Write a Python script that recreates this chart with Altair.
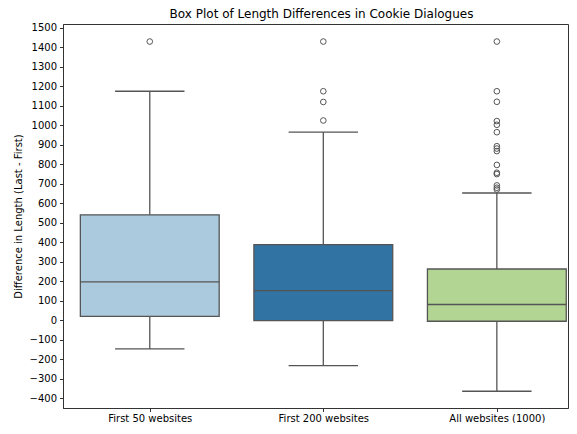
import json
import altair as alt
import pandas as pd

categories = ["First 50 websites", "First 200 websites", "All websites (1000)"]
colors = ["#abcadd", "#3173a3", "#b3d594"]
q1 = [20, -2, -5]
median = [197, 152, 81]
q3 = [541, 388, 263]
whisker_low = [-147, -233, -364]
whisker_high = [1175, 965, 653]

outliers_50 = [1430]
outliers_200 = [1430, 1175, 1120, 1025]
outliers_all = [1430, 1175, 1121, 1022, 1003, 965, 893, 881, 868, 797, 757, 750, 692, 680, 671]

y_ticks = list(range(-400, 1501, 100))

box_df = pd.DataFrame({
    "i": list(range(len(categories))),
    "cat": categories,
    "q1": q1, "median": median, "q3": q3,
    "lo": whisker_low, "hi": whisker_high,
})
out_rows = []
for idx, vals in enumerate([outliers_50, outliers_200, outliers_all]):
    for v in vals:
        out_rows.append({"i": idx, "v": v})
out_df = pd.DataFrame(out_rows)

labels_js = json.dumps(categories)
line_color = "#555555"
lw = 1.3

xscale = alt.Scale(domain=[-0.5, 2.41], nice=False, zero=False)
yscale = alt.Scale(domain=[-450, 1520], nice=False, zero=False)

x_axis = alt.Axis(
    values=[0, 1, 2],
    labelExpr=f"{labels_js}[datum.value]",
    grid=False, title=None, tickSize=3.5, labelPadding=2,
)
y_axis = alt.Axis(
    values=y_ticks,
    labelExpr="datum.value < 0 ? '\u2212' + (-datum.value) : '' + datum.value",
    grid=False, title="Difference in Length (Last - First)", tickSize=3.5,
    labelPadding=3, titlePadding=6, labelOverlap=False, labelBound=False,
)


def X(field):
    return alt.X(field, scale=xscale, axis=x_axis)


def Y(field):
    return alt.Y(field, scale=yscale, axis=y_axis)


base = alt.Chart(box_df).transform_calculate(
    xl="datum.i - 0.4", xr="datum.i + 0.4",
    cl="datum.i - 0.2", cr="datum.i + 0.2",
)

whisk_hi = base.mark_rule(color=line_color, strokeWidth=lw).encode(
    x=X("i:Q"), y=Y("q3:Q"), y2="hi:Q",
)
whisk_lo = base.mark_rule(color=line_color, strokeWidth=lw).encode(
    x=X("i:Q"), y=Y("lo:Q"), y2="q1:Q",
)
box = base.mark_rect(stroke=line_color, strokeWidth=lw).encode(
    x=X("xl:Q"), x2="xr:Q",
    y=Y("q1:Q"), y2="q3:Q",
    fill=alt.Fill("cat:N", scale=alt.Scale(domain=categories, range=colors), legend=None),
)
med = base.mark_rule(color=line_color, strokeWidth=lw).encode(
    x=X("xl:Q"), x2="xr:Q", y=Y("median:Q"),
)
cap_hi = base.mark_rule(color=line_color, strokeWidth=lw).encode(
    x=X("cl:Q"), x2="cr:Q", y=Y("hi:Q"),
)
cap_lo = base.mark_rule(color=line_color, strokeWidth=lw).encode(
    x=X("cl:Q"), x2="cr:Q", y=Y("lo:Q"),
)
fliers = alt.Chart(out_df).mark_point(
    shape="circle", filled=False, color=line_color, size=32, strokeWidth=1, opacity=1
).encode(
    x=X("i:Q"), y=Y("v:Q"),
)

chart = alt.layer(whisk_hi, whisk_lo, box, med, cap_hi, cap_lo, fliers).properties(
    width=505, height=384,
    title=alt.TitleParams(
        "Box Plot of Length Differences in Cookie Dialogues",
        fontSize=12, fontWeight="normal", font="DejaVu Sans", color="black",
        offset=2, dx=6,
    ),
    autosize=alt.AutoSizeParams(type="none"),
    padding={"left": 55, "top": 16, "right": 1, "bottom": 15},
).configure_view(
    stroke="#333333", strokeWidth=1
).configure_axis(
    labelFont="DejaVu Sans", titleFont="DejaVu Sans",
    labelFontSize=10, titleFontSize=10, titleFontWeight="normal",
    labelColor="black", titleColor="black",
    domainColor="#333333", tickColor="#333333", domainWidth=1, tickWidth=1,
)

chart.save("out.html", embed_options={"renderer": "svg", "actions": False})
